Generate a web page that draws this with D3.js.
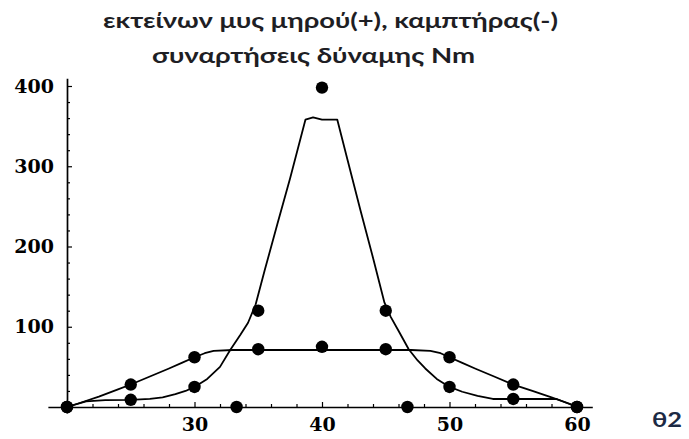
<!DOCTYPE html>
<html>
<head>
<meta charset="utf-8">
<script src="https://cdn.jsdelivr.net/npm/d3@7"></script>
<style>
  html, body { margin: 0; padding: 0; background: #fff; }
  svg { display: block; }
</style>
</head>
<body>
<svg id="chart" width="689" height="439"></svg>
<script>
// Sampled angles (θ2) and measured forces
const thetaPoints   = [20, 25, 30, 35, 40, 45, 50, 55, 60];
const extensorForce = [0, 28, 62, 72, 75, 72, 62, 28, 0];
const flexorForce   = [0, 9, 25, 120, 398, 120, 25, 10, 0];

// Zero points of the force function
const zeroTheta = [33.3, 46.7];
const zeroForce = [0, 0];

// Fitted curve for the extensor (broad plateau)
const extensorCurveTheta = [20, 21, 22.5, 24, 25, 26.5, 28, 29, 30, 30.8, 31.5, 33, 40, 47, 48.5, 49.3, 50, 51, 52, 53.5, 55, 56.5, 58, 59.7, 60];
const extensorCurveForce = [0, 5, 13, 22, 28, 38, 48, 55, 62, 67, 70, 71, 71, 71, 70, 67, 62, 55, 48, 38, 28, 20, 12, 2.5, 0];

// Fitted curve for the flexor (sharp peak)
const flexorCurveTheta = [20, 21.5, 23, 25, 26.5, 27.5, 28.5, 29.3, 30, 31, 32, 32.8, 33.6, 34.2, 34.8, 35.5, 36.5, 37.5, 38.7, 39.3, 40, 41.2, 42, 43, 44, 44.9, 45.4, 46, 46.8, 47.5, 48.1, 49, 50, 51, 52.2, 53.4, 55, 58.4, 60];
const flexorCurveForce = [0, 7, 8.5, 9, 10, 12, 16, 20, 25, 35, 50, 71, 90, 105, 128, 170, 228, 285, 358, 361, 358, 358, 308, 246, 186, 130, 112, 95, 72, 58, 48, 35, 25, 19, 14, 10, 10, 10, 0];

// Axis ticks
const xMajorTicks = [30, 40, 50, 60];
const xMinorTicks = [22, 24, 26, 28, 32, 34, 36, 38, 42, 44, 46, 48, 52, 54, 56, 58];
const yMajorTicks = [100, 200, 300, 400];
const yMinorTicks = [20, 40, 60, 80, 120, 140, 160, 180, 220, 240, 260, 280, 320, 340, 360, 380];

const titleLines = ["εκτείνων μυς μηρού(+), καμπτήρας(-)", "συναρτήσεις δύναμης Nm"];
const xAxisLabel = "θ2";

const svg = d3.select("#chart");

const pxPerTheta = 12.75;
const pxPerForce = 0.8025;
const x = d3.scaleLinear()
  .domain([18.5, 61.2])
  .range([67 - 1.5 * pxPerTheta, 67 + 41.2 * pxPerTheta]);
const y = d3.scaleLinear()
  .domain([-7.5, 409.7])
  .range([407 + 7.5 * pxPerForce, 407 - 409.7 * pxPerForce]);

const x0 = x(20), y0 = y(0);
const tickFont = "'DejaVu Serif', serif";

// x axis
const gx = svg.append("g").attr("transform", `translate(0,${y0})`);
gx.call(d3.axisBottom(x).tickValues(xMajorTicks).tickSizeInner(-5).tickSizeOuter(0).tickPadding(11).tickFormat(d3.format("d")));
gx.append("g").call(d3.axisBottom(x).tickValues(xMinorTicks).tickSizeInner(-3).tickSizeOuter(0).tickFormat(""))
  .select(".domain").remove();

// y axis
const gy = svg.append("g").attr("transform", `translate(${x0},0)`);
gy.call(d3.axisLeft(y).tickValues(yMajorTicks).tickSizeInner(-5).tickSizeOuter(0).tickPadding(13).tickFormat(d3.format("d")));
gy.append("g").call(d3.axisLeft(y).tickValues(yMinorTicks).tickSizeInner(-3).tickSizeOuter(0).tickFormat(""))
  .select(".domain").remove();

svg.selectAll(".domain").attr("stroke", "#000").attr("stroke-width", 1.7);
svg.selectAll(".tick line").attr("stroke", "#000").attr("stroke-width", 1.2);
svg.selectAll(".tick text")
  .attr("font-family", tickFont)
  .attr("font-weight", "bold")
  .attr("font-size", 19)
  .attr("fill", "#000");

// fitted curves
const line = d3.line().x(d => x(d[0])).y(d => y(d[1]));
const curves = [
  d3.zip(extensorCurveTheta, extensorCurveForce),
  d3.zip(flexorCurveTheta, flexorCurveForce)
];
svg.append("g").selectAll("path").data(curves).join("path")
  .attr("d", line)
  .attr("fill", "none")
  .attr("stroke", "#000")
  .attr("stroke-width", 1.8)
  .attr("stroke-linejoin", "round");

// measured points
const points = [
  ...d3.zip(thetaPoints, extensorForce),
  ...d3.zip(thetaPoints, flexorForce),
  ...d3.zip(zeroTheta, zeroForce)
];
svg.append("g").selectAll("circle").data(points).join("circle")
  .attr("cx", d => x(d[0]))
  .attr("cy", d => y(d[1]))
  .attr("r", 6.2)
  .attr("fill", "#000");

// title
const titleFont = "Lato, 'Open Sans', sans-serif";
const titleSpec = [
  { x: 103, y: 27.5, len: 455 },
  { x: 152, y: 63, len: 323 }
];
svg.append("g").selectAll("text").data(titleLines).join("text")
  .attr("x", (d, i) => titleSpec[i].x)
  .attr("y", (d, i) => titleSpec[i].y)
  .attr("textLength", (d, i) => titleSpec[i].len)
  .attr("lengthAdjust", "spacingAndGlyphs")
  .attr("font-family", titleFont)
  .attr("font-weight", "bold")
  .attr("font-size", 20)
  .attr("fill", "#1e1e24")
  .text(d => d);

// x axis label
svg.append("text")
  .attr("x", 652)
  .attr("y", 427)
  .attr("textLength", 30)
  .attr("lengthAdjust", "spacingAndGlyphs")
  .attr("font-family", titleFont)
  .attr("font-weight", "bold")
  .attr("font-size", 21)
  .attr("fill", "#1c2a44")
  .text(xAxisLabel);
</script>
</body>
</html>
